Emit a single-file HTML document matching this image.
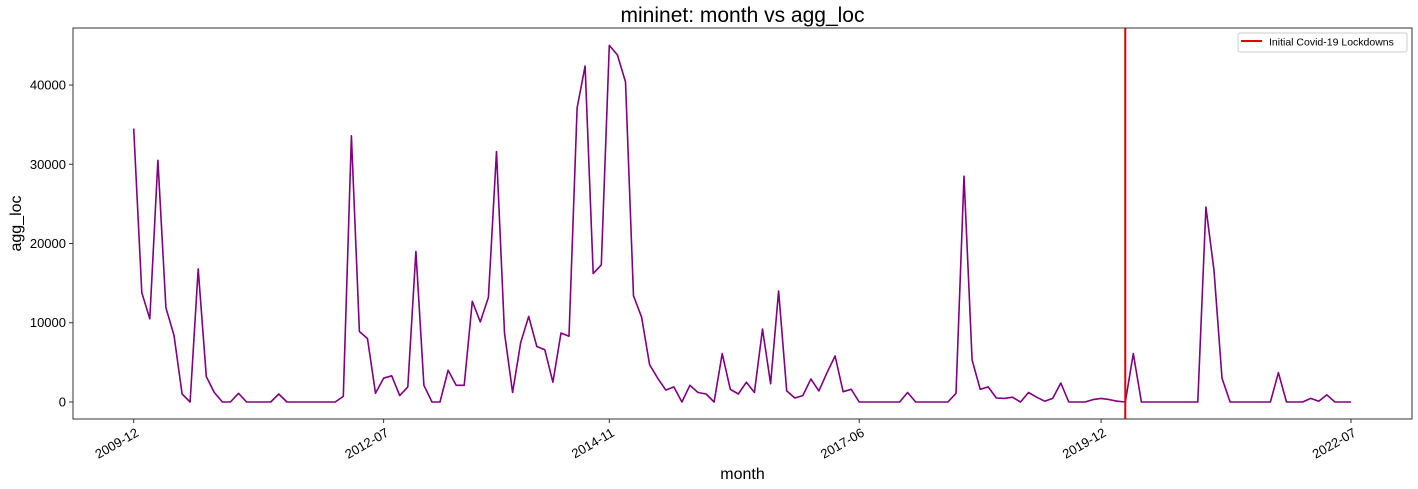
<!DOCTYPE html>
<html><head><meta charset="utf-8"><style>
html,body{margin:0;padding:0;background:#fff;}
svg{display:block;font-family:"Liberation Sans","DejaVu Sans",sans-serif;}
</style></head><body>
<svg id="chart" width="1418" height="489"></svg>
<script>
const startYear = 2009, startMonth = 12;
const values = [34500,13800,10500,30500,11900,8400,1000,0,16800,3200,1200,0,0,1100,0,0,0,0,1000,0,0,0,0,0,0,0,700,33600,8900,8000,1100,3000,3300,800,1900,19000,2100,0,0,4000,2100,2100,12700,10100,13200,31600,8700,1200,7500,10800,7000,6600,2500,8700,8300,37100,42400,16200,17300,45000,43800,40400,13400,10700,4700,3000,1500,1900,0,2100,1200,1000,0,6100,1600,1000,2500,1200,9200,2300,14000,1400,500,800,2900,1400,3700,5800,1300,1600,0,0,0,0,0,0,1200,0,0,0,0,0,1100,28500,5300,1600,1900,500,450,600,0,1200,600,100,450,2400,0,0,0,300,450,300,100,0,6100,0,0,0,0,0,0,0,0,24600,16600,3000,0,0,0,0,0,0,3700,0,0,0,450,100,900,0,0,0];
const xTickLabels = ["2009-12","2012-07","2014-11","2017-06","2019-12","2022-07"];
const xTickIndex = [0,31,59,90,120,151];
const yTicks = [0,10000,20000,30000,40000];
const covidIndex = 123;

const L=73,R=1412,T=28,B=419;
const x0=133.7,dx=(1351-133.7)/151;
function xs(i){return x0+dx*i;}
const yMin=-2150,yMax=47200;
function ys(v){return B-(v-yMin)/(yMax-yMin)*(B-T);}
const NS="http://www.w3.org/2000/svg";
const svg=document.getElementById('chart');
function mk(tag,attrs,parent){const e=document.createElementNS(NS,tag);for(const k in attrs)e.setAttribute(k,attrs[k]);(parent||svg).appendChild(e);return e;}

let t=mk('text',{x:(L+R)/2,y:22,'text-anchor':'middle','font-size':21,fill:'#000'});
t.textContent='mininet: month vs agg_loc';



let d=values.map((v,i)=>(i?'L':'M')+xs(i).toFixed(1)+','+ys(v).toFixed(1)).join(' ');
let line=mk('path',{d:d,fill:'none',stroke:'#800080','stroke-width':1.6,'stroke-linejoin':'round'});



let cv=mk('line',{x1:xs(covidIndex),x2:xs(covidIndex),y1:T,y2:B,stroke:'#e00000','stroke-width':2});



let frame=mk('rect',{x:L,y:T,width:R-L,height:B-T,fill:'none',stroke:'#333','stroke-width':1});



yTicks.forEach(v=>{
  const y=ys(v);
  const tk=mk('line',{x1:L-4,x2:L,y1:y,y2:y,stroke:'#333'});
  
  
  const lb=mk('text',{x:L-7,y:y+4.5,'text-anchor':'end','font-size':13,fill:'#000'});
  lb.textContent=String(v);
  
  
});
xTickIndex.forEach((idx,k)=>{
  const x=xs(idx);
  const tk=mk('line',{x1:x,x2:x,y1:B,y2:B+4,stroke:'#333'});
  
  
  const lb=mk('text',{x:x+3,y:B+17,'text-anchor':'end','font-size':13,fill:'#000',transform:`rotate(-30 ${x+3} ${B+11})`});
  lb.textContent=xTickLabels[k];
  
  
});
let xl=mk('text',{x:(L+R)/2,y:479,'text-anchor':'middle','font-size':16,fill:'#000'});
xl.textContent='month';


let yl=mk('text',{x:21,y:(T+B)/2,'text-anchor':'middle','font-size':16,fill:'#000',transform:`rotate(-90 21 ${(T+B)/2})`});
yl.textContent='agg_loc';



const lg=mk('g',{});


mk('rect',{x:1238,y:33,width:169,height:19,rx:2,fill:'#fff',stroke:'#ccc'},lg);
mk('line',{x1:1241,x2:1262,y1:41,y2:41,stroke:'#e00000','stroke-width':2},lg);
const lt=mk('text',{x:1269,y:45.5,'font-size':10.5,fill:'#000'},lg);
lt.textContent='Initial Covid-19 Lockdowns';


</script>
</body></html>
